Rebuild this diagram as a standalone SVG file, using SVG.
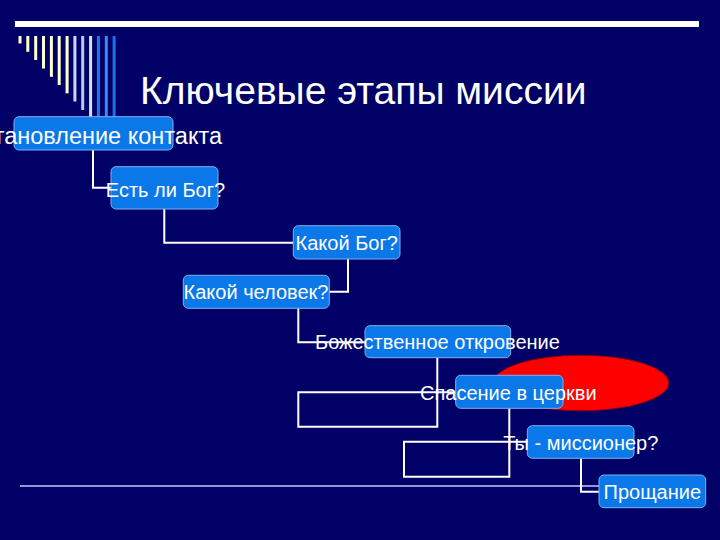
<svg xmlns="http://www.w3.org/2000/svg" width="720" height="540" viewBox="0 0 720 540">
<style>
.bx{fill:#0A78E8;stroke:#7FB0F2;stroke-width:1}
.t{font-family:"Liberation Sans",Arial,sans-serif;font-size:20px;fill:#FFFFFF;text-anchor:middle}
.c{fill:none;stroke:#FFFFFF;stroke-width:2}
.cream{fill:#FFFFCC}
</style>
<rect x="0" y="0" width="720" height="540" fill="#000066"/>
<g id="decor">
<rect x="15" y="21" width="684" height="6" fill="#FFFFFF"/>
<rect class="cream" x="18.5" y="36" width="3" height="7.5"/>
<rect class="cream" x="26.3" y="36" width="3" height="15.8"/>
<rect class="cream" x="34.2" y="36" width="3" height="24"/>
<rect class="cream" x="42" y="36" width="3" height="32.5"/>
<rect class="cream" x="49.9" y="36" width="3" height="40.8"/>
<rect class="cream" x="57.7" y="36" width="3" height="49"/>
<rect class="cream" x="65.6" y="36" width="3" height="57.3"/>
<rect x="73.4" y="36" width="3" height="65.5" fill="#C8D8F4"/>
<rect x="81.2" y="36" width="3" height="74" fill="#B4CCF4"/>
<rect x="89.1" y="36" width="3" height="81" fill="#D2E4FF"/>
<rect x="96.9" y="36" width="3" height="81" fill="#1F78F0"/>
<rect x="104.8" y="36" width="3" height="81" fill="#3A8CF5"/>
<rect x="112.6" y="36" width="3" height="81" fill="#1F70E6"/>
<line x1="20" y1="486" x2="600" y2="486" stroke="#9494D8" stroke-width="2"/>
</g>
<text x="140" y="104" font-family="'Liberation Sans',Arial,sans-serif" font-size="39" fill="#FFFFFF">Ключевые этапы миссии</text>
<g id="connectors">
<path class="c" d="M93,150 V187.7 H111"/>
<path class="c" d="M164.3,209 V242.7 H293"/>
<path class="c" d="M348,259 V291.7 H329"/>
<path class="c" d="M298.3,308 V342.3 H365"/>
<path class="c" d="M437.3,357.7 V426.7 H298.3 V392.3 H455.7"/>
<path class="c" d="M509.3,408.3 V476.7 H404 V441.7 H527.3"/>
<path class="c" d="M581,458.3 V491.7 H599"/>
</g>
<ellipse id="highlight" cx="581" cy="383" rx="87.7" ry="27.8" fill="#FF0000" stroke="#8B0000" stroke-width="1"/>
<g id="n1"><rect class="bx" x="14" y="116.7" width="159" height="33.3" rx="5"/><text class="t" x="222" y="143.5" style="font-size:23.5px;text-anchor:end">Установление контакта</text></g>
<g id="n2"><rect class="bx" x="111" y="166.7" width="107" height="42.3" rx="5"/><text class="t" x="165.5" y="196.5">Есть ли Бог?</text></g>
<g id="n3"><rect class="bx" x="293.3" y="225.7" width="106.7" height="33.3" rx="5"/><text class="t" x="346.7" y="250">Какой Бог?</text></g>
<g id="n4"><rect class="bx" x="183.3" y="275.3" width="146" height="33" rx="5"/><text class="t" x="256" y="299">Какой человек?</text></g>
<g id="n5"><rect class="bx" x="365" y="325.7" width="145.7" height="32" rx="5"/><text class="t" x="437.5" y="349">Божественное откровение</text></g>
<g id="n6"><rect class="bx" x="455.7" y="375.3" width="107.3" height="33" rx="5"/><text class="t" x="508.3" y="400">Спасение в церкви</text></g>
<g id="n7"><rect class="bx" x="527.3" y="425.7" width="106.7" height="32.6" rx="5"/><text class="t" x="580.8" y="450">Ты - миссионер?</text></g>
<g id="n8"><rect class="bx" x="599" y="475" width="106.7" height="32.7" rx="5"/><text class="t" x="652.3" y="499">Прощание</text></g>
</svg>
